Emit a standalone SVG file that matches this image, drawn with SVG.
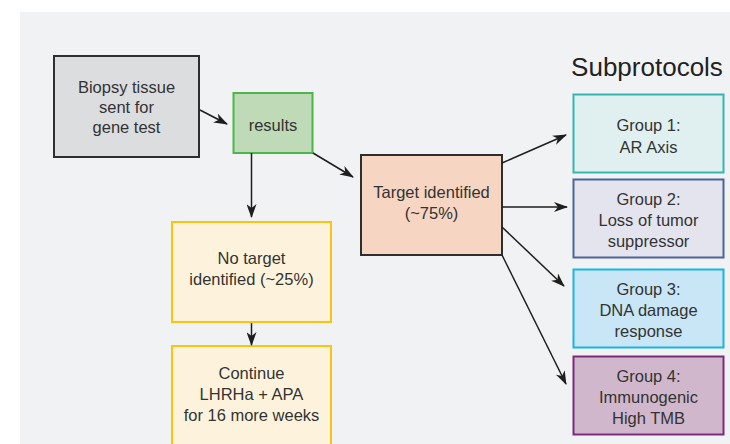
<svg xmlns="http://www.w3.org/2000/svg" width="730" height="444" viewBox="0 0 730 444">
<defs>
<marker id="ah" viewBox="0 0 14 10" markerWidth="14" markerHeight="10" refX="13" refY="5" orient="auto" markerUnits="userSpaceOnUse">
<path d="M0,0 L14,5 L0,10 L4,5 z" fill="#1e1e1e"/>
</marker>
<style>
text{font-family:"Liberation Sans",Arial,sans-serif;font-size:16.5px;fill:#333;text-anchor:middle}
.box{stroke-width:2}
.con line{stroke:#1e1e1e;stroke-width:1.5;marker-end:url(#ah)}
</style>
</defs>
<rect x="0" y="0" width="730" height="444" fill="#ffffff"/>
<rect x="20" y="12" width="710" height="432" fill="#f1f2f4"/>

<g id="biopsy">
<rect class="box" x="54" y="56" width="145" height="101" fill="#dcdddf" stroke="#2e2e2e"/>
<text x="126.5" y="93">Biopsy tissue</text>
<text x="126.5" y="113">sent for</text>
<text x="126.5" y="133">gene test</text>
</g>

<g id="results">
<rect class="box" x="233.5" y="93" width="79" height="60" fill="#bedab6" stroke="#4cb748"/>
<text x="273" y="131">results</text>
</g>

<g id="target">
<rect class="box" x="361" y="155" width="141" height="100" fill="#f6d5c2" stroke="#2e2e2e"/>
<text x="431.5" y="198">Target identified</text>
<text x="431.5" y="219">(~75%)</text>
</g>

<g id="notarget">
<rect class="box" x="172" y="222" width="159" height="100" fill="#fdf3dc" stroke="#fcc40f"/>
<text x="251.5" y="264">No target</text>
<text x="251.5" y="285">identified (~25%)</text>
</g>

<g id="continue">
<rect class="box" x="172" y="346" width="159" height="120" fill="#fdf3dc" stroke="#fcc40f"/>
<text x="251.5" y="379">Continue</text>
<text x="251.5" y="400">LHRHa + APA</text>
<text x="251.5" y="421">for 16 more weeks</text>
</g>

<g id="title">
<text x="647" y="76" style="font-size:26px;fill:#222">Subprotocols</text>
</g>

<g id="group1">
<rect class="box" x="573.5" y="94.5" width="150" height="78" fill="#e0f0f0" stroke="#35b6b3"/>
<text x="648.5" y="131">Group 1:</text>
<text x="648.5" y="153">AR Axis</text>
</g>

<g id="group2">
<rect class="box" x="573.5" y="179.5" width="150" height="78" fill="#e4e4ef" stroke="#4b6596"/>
<text x="648.5" y="205">Group 2:</text>
<text x="648.5" y="226">Loss of tumor</text>
<text x="648.5" y="247">suppressor</text>
</g>

<g id="group3">
<rect class="box" x="573.5" y="269.5" width="150" height="78" fill="#c8e6f6" stroke="#1cb3e7"/>
<text x="648.5" y="295">Group 3:</text>
<text x="648.5" y="316">DNA damage</text>
<text x="648.5" y="337">response</text>
</g>

<g id="group4">
<rect class="box" x="573.5" y="356.5" width="150" height="78" fill="#d0b7cc" stroke="#7c2a7b"/>
<text x="648.5" y="382">Group 4:</text>
<text x="648.5" y="403">Immunogenic</text>
<text x="648.5" y="424">High TMB</text>
</g>

<g class="con" id="connectors">
<line x1="200" y1="110" x2="227" y2="124"/>
<line x1="313" y1="153" x2="353" y2="177"/>
<line x1="251.5" y1="153" x2="251.5" y2="217"/>
<line x1="251.5" y1="323" x2="251.5" y2="345"/>
<line x1="502" y1="163" x2="566" y2="135"/>
<line x1="502" y1="207" x2="567" y2="207"/>
<line x1="502" y1="227" x2="564" y2="286"/>
<line x1="502" y1="255" x2="566" y2="384"/>
</g>
</svg>
